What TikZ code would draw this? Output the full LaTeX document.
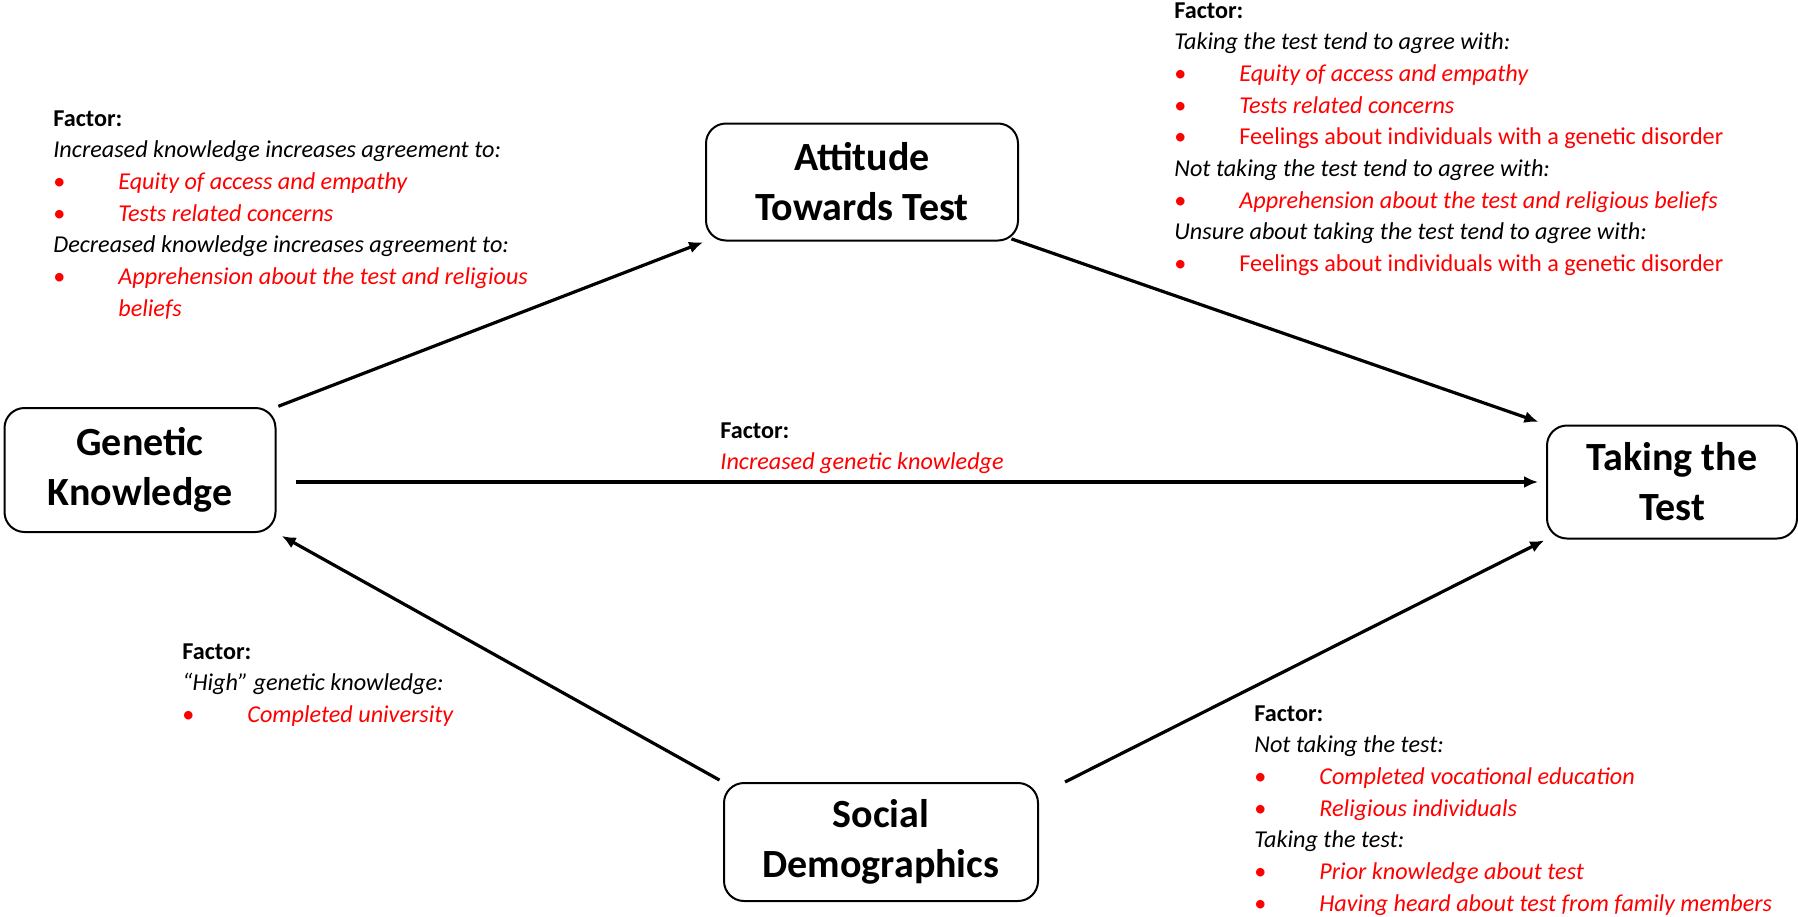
\documentclass[tikz,border=0pt]{standalone}
\usepackage{fontspec}
\setmainfont{Carlito}
\usetikzlibrary{arrows.meta,positioning,calc}
\definecolor{factred}{RGB}{255,0,0}

\tikzset{
  conbox/.style={draw, line width=1pt, rounded corners=10pt, align=center,
    font=\bfseries\fontsize{20}{25}\selectfont, inner sep=0pt},
  flow/.style={-{Latex[length=7pt,width=6pt]}, line width=1.6pt},
  factnote/.style={anchor=north west, align=left, inner sep=0pt,
    font=\fontsize{12.1}{15.85}\selectfont},
}
\newcommand{\fhead}{\textbf{Factor:}}
\newcommand{\fbul}{\makebox[32.5pt][l]{\textcolor{factred}{\textbullet}}}
\newcommand{\fitem}[1]{\fbul\textcolor{factred}{\textit{#1}}}
\newcommand{\fitemup}[1]{\fbul\textcolor{factred}{#1}}

\begin{document}
\begin{tikzpicture}[x=0.5pt,y=-0.5pt]
  \useasboundingbox (0,0) rectangle (1798,916);

  % concept boxes
  \node[conbox, minimum width=135.5pt, minimum height=62pt] (gk) at (140,470) {Genetic\\Knowledge};
  \node[conbox, minimum width=156pt, minimum height=58.5pt] (att) at (862,182) {Attitude\\Towards Test};
  \node[conbox, minimum width=125pt, minimum height=56.5pt] (take) at (1672,482) {Taking the\\Test};
  \node[conbox, minimum width=157pt, minimum height=59pt] (soc) at (881,842) {Social\\Demographics};

  % connectors
  \draw[flow, shorten <=1pt, shorten >=1pt] (gk.north east) -- (att.south west);
  \draw[flow, shorten <=-4pt, shorten >=4pt] (att.south east) -- (take.north west);
  \draw[flow] ([xshift=9.5pt]gk.east |- take.west) -- ([xshift=-4pt]take.west);
  \draw[flow, shorten <=2pt, shorten >=3pt] (soc.north west) -- (gk.south east);
  \draw[flow, shorten >=1pt] ([xshift=13pt]soc.north east) -- (take.south west);

  % factor notes
  \node[factnote] (kn) at (53,110) {\fhead\\
    \textit{Increased knowledge increases agreement to:}\\
    \fitem{Equity of access and empathy}\\
    \fitem{Tests related concerns}\\
    \textit{Decreased knowledge increases agreement to:}\\
    \fitem{Apprehension about the test and religious}\\
    \hspace*{32.5pt}\textcolor{factred}{\textit{beliefs}}};

  \node[factnote] (tk) at (1174,2) {\fhead\\
    \textit{Taking the test tend to agree with:}\\
    \fitem{Equity of access and empathy}\\
    \fitem{Tests related concerns}\\
    \fitemup{Feelings about individuals with a genetic disorder}\\
    \textit{Not taking the test tend to agree with:}\\
    \fitem{Apprehension about the test and religious beliefs}\\
    \textit{Unsure about taking the test tend to agree with:}\\
    \fitemup{Feelings about individuals with a genetic disorder}};

  \node[factnote] (mid) at (720,422) {\fhead\\
    \textcolor{factred}{\textit{Increased genetic knowledge}}};

  \node[factnote] (hi) at (182,643) {\fhead\\
    \textit{``High'' genetic knowledge:}\\
    \fitem{Completed university}};

  \node[factnote] (dem) at (1254,705) {\fhead\\
    \textit{Not taking the test:}\\
    \fitem{Completed vocational education}\\
    \fitem{Religious individuals}\\
    \textit{Taking the test:}\\
    \fitem{Prior knowledge about test}\\
    \fitem{Having heard about test from family members}};
\end{tikzpicture}
\end{document}
